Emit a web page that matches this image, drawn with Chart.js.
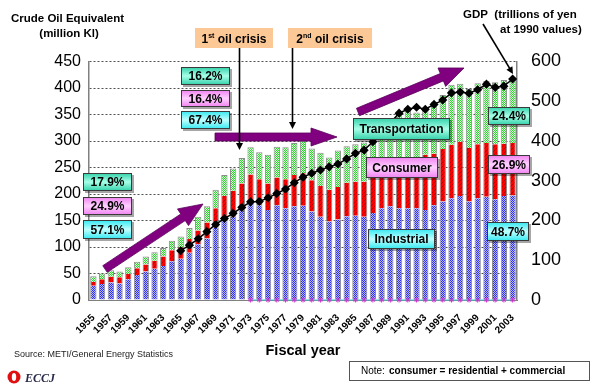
<!DOCTYPE html>
<html><head><meta charset="utf-8">
<script src="https://cdn.jsdelivr.net/npm/chart.js@4/dist/chart.umd.min.js"></script>
<style>html,body{margin:0;padding:0;background:#fff;}#wrap{width:600px;height:388px;position:relative;}</style>
</head><body><div id="wrap"><canvas id="c" width="600" height="388"></canvas></div>
<script>
// ---- data ----
const years = ['1955','1956','1957','1958','1959','1960','1961','1962','1963','1964','1965','1966','1967','1968','1969','1970','1971','1972','1973','1974','1975','1976','1977','1978','1979','1980','1981','1982','1983','1984','1985','1986','1987','1988','1989','1990','1991','1992','1993','1994','1995','1996','1997','1998','1999','2000','2001','2002','2003'];
const industrial = [27,30,33,31,39,47,54,59,64,73,78,89,105,116,137,150,157,171,181,179,170,179,173,177,178,167,157,148,152,158,159,157,164,173,177,173,173,173,170,179,186,192,196,186,192,195,190,196,197];
const consumer = [7,9,11,12,10,13,13,15,18,21,21,26,26,30,36,46,49,49,56,49,50,52,55,59,61,59,58,60,61,63,64,66,68,67,69,79,85,89,104,97,99,101,102,101,102,101,104,99,99];
const transport = [11,11,12,11,13,12,15,16,16,18,21,21,26,31,35,40,42,48,51,51,54,58,60,60,61,60,63,61,69,69,71,74,80,85,92,97,100,92,86,98,102,113,110,111,115,117,117,120,120];
const gdp = [null,null,null,null,null,null,null,null,null,null,124,138,154,172,190,205,218,233,247,248,257,268,279,295,309,319,327,335,342,355,369,377,398,422,446,470,480,485,480,492,503,521,523,520,529,543,535,538,556];
const baseMarks = [null,null,null,null,null,null,null,null,null,null,null,null,null,null,null,null,null,null,0,0,0,0,0,0,0,0,0,0,0,0,0,0,0,0,0,0,0,0,0,0,0,0,0,0,0,0,0,0,0];
const leftTicks = [0,50,100,150,200,250,300,350,400,450];
const rightTicks = [0,100,200,300,400,500,600];

const FONT = '"Liberation Sans", Arial, sans-serif';

function pattern(bg, fg, fn) {
  const c = document.createElement('canvas'); c.width = 4; c.height = 4;
  const x = c.getContext('2d');
  x.fillStyle = bg; x.fillRect(0,0,4,4);
  x.fillStyle = fg;
  for (let i=0;i<4;i++) for (let j=0;j<4;j++) if (fn(i,j)) x.fillRect(i,j,1,1);
  return x.createPattern(c,'repeat');
}
const ctx0 = document.getElementById('c').getContext('2d');
const bluePat = pattern('#B4B4FF', '#3030E8', (i,j)=>(i+j)%2===0);
const redPat = pattern('#FF0000', '#C00000', (i,j)=>(i+j)%4===0);
const greenPat = pattern('#D0FFD0', '#30D030', (i,j)=>(i+j)%2===0);

// ---- annotation helpers ----
function boxG(ctx,x,y,w,h,c1,c2,text,fs){
  ctx.save();
  ctx.fillStyle='rgba(0,0,0,0.35)'; ctx.fillRect(x+2,y+2,w,h);
  const g=ctx.createLinearGradient(x,y,x,y+h); g.addColorStop(0,c1); g.addColorStop(0.5,c2); g.addColorStop(1,c1);
  ctx.fillStyle=g; ctx.fillRect(x,y,w,h);
  ctx.strokeStyle='#3a3a3a'; ctx.lineWidth=1; ctx.strokeRect(x+0.5,y+0.5,w-1,h-1);
  if(text){ctx.fillStyle='#000'; ctx.font='bold '+fs+'px '+FONT; ctx.textAlign='center'; ctx.textBaseline='middle'; ctx.fillText(text,x+w/2,y+h/2+1);}
  ctx.restore();
}
const TEAL=['#2FD0A8','#A8FFE8'], PINK=['#F080F0','#FFD0FF'], CYAN=['#30E8F0','#C0FFFF'];
function purpleArrow(ctx,x1,y1,x2,y2,sw,hl,hw){
  const dx=x2-x1, dy=y2-y1, L=Math.hypot(dx,dy), ux=dx/L, uy=dy/L, nx=-uy, ny=ux;
  const bx=x2-ux*hl, by=y2-uy*hl;
  ctx.save(); ctx.fillStyle='#800080'; ctx.strokeStyle='#5a005a'; ctx.lineWidth=0.8;
  ctx.beginPath();
  ctx.moveTo(x1+nx*sw,y1+ny*sw); ctx.lineTo(bx+nx*sw,by+ny*sw); ctx.lineTo(bx+nx*hw,by+ny*hw);
  ctx.lineTo(x2,y2); ctx.lineTo(bx-nx*hw,by-ny*hw); ctx.lineTo(bx-nx*sw,by-ny*sw); ctx.lineTo(x1-nx*sw,y1-ny*sw);
  ctx.closePath(); ctx.fill(); ctx.stroke(); ctx.restore();
}
function blackArrow(ctx,x1,y1,x2,y2){
  const dx=x2-x1, dy=y2-y1, L=Math.hypot(dx,dy), ux=dx/L, uy=dy/L, nx=-uy, ny=ux;
  ctx.save(); ctx.strokeStyle='#000'; ctx.fillStyle='#000'; ctx.lineWidth=1.6;
  ctx.beginPath(); ctx.moveTo(x1,y1); ctx.lineTo(x2-ux*5,y2-uy*5); ctx.stroke();
  ctx.beginPath(); ctx.moveTo(x2,y2); ctx.lineTo(x2-ux*7+nx*3.5,y2-uy*7+ny*3.5); ctx.lineTo(x2-ux*7-nx*3.5,y2-uy*7-ny*3.5); ctx.closePath(); ctx.fill();
  ctx.restore();
}
function crisisBox(ctx,x,y,w,h,num,sup){
  ctx.save(); ctx.fillStyle='#FCC896'; ctx.fillRect(x,y,w,h);
  ctx.fillStyle='#000'; ctx.textBaseline='alphabetic';
  const f1='bold 12px '+FONT, f2='bold 7px '+FONT;
  ctx.font=f1; const a=ctx.measureText(num).width, c=ctx.measureText(' oil crisis').width;
  ctx.font=f2; const b=ctx.measureText(sup).width;
  let sx=x+(w-(a+b+c))/2; const by=y+h/2+4.5;
  ctx.font=f1; ctx.fillText(num,sx,by); sx+=a;
  ctx.font=f2; ctx.fillText(sup,sx,by-5); sx+=b;
  ctx.font=f1; ctx.fillText(' oil crisis',sx,by);
  ctx.restore();
}

const annot = {
  id:'annot',
  afterDraw(chart){
    const ctx=chart.ctx;
    ctx.save(); ctx.fillStyle='#000'; ctx.textBaseline='middle';
    ctx.font='bold 11.5px '+FONT; ctx.textAlign='left'; ctx.fillText('Crude Oil Equivalent',11,19);
    ctx.textAlign='center'; ctx.fillText('(million Kl)',69,34);
    ctx.textAlign='left'; ctx.fillText('GDP  (trillions of yen',463,15);
    ctx.fillText('at 1990 values)',500,30);
    ctx.font='bold 14.5px '+FONT; ctx.textAlign='center'; ctx.fillText('Fiscal year',303,351);
    ctx.font='9px '+FONT; ctx.textAlign='left'; ctx.fillStyle='#222'; ctx.fillText('Source: METI/General Energy Statistics',14,355);
    ctx.restore();
    ctx.save(); ctx.fillStyle='#fff'; ctx.fillRect(349,361,240,19);
    ctx.strokeStyle='#555'; ctx.lineWidth=1; ctx.strokeRect(349.5,361.5,240,19);
    ctx.fillStyle='#000'; ctx.textBaseline='middle'; ctx.font='10px '+FONT; ctx.textAlign='left';
    ctx.fillText('Note:',361,371.5); ctx.font='bold 10px '+FONT; ctx.fillText('consumer = residential + commercial',389,371.5);
    ctx.restore();
    ctx.save(); ctx.fillStyle='#E01010'; ctx.beginPath(); ctx.arc(14,377,6.5,0,Math.PI*2); ctx.fill();
    ctx.fillStyle='#fff'; ctx.beginPath(); ctx.ellipse(14,377,2.2,4,0,0,Math.PI*2); ctx.fill();
    ctx.fillStyle='#2a2a4a'; ctx.font='italic bold 12px "Liberation Serif", serif'; ctx.textBaseline='middle'; ctx.fillText('ECCJ',25,379);
    ctx.restore();
    purpleArrow(ctx,105,269,203,204,4,24,10);
    purpleArrow(ctx,215,137,337,137,4,26,9);
    purpleArrow(ctx,358,112,464,68,4,24,10);
    blackArrow(ctx,239.5,48,239.5,150);
    blackArrow(ctx,292.5,48,292.5,129);
    blackArrow(ctx,483,24,513,74);
    crisisBox(ctx,195,28,78,20,'1','st');
    crisisBox(ctx,288,28,84,20,'2','nd');
    boxG(ctx,181,67,49,18,TEAL[0],TEAL[1],'16.2%',12);
    boxG(ctx,181,90,49,17,PINK[0],PINK[1],'16.4%',12);
    boxG(ctx,181,111,49,18,CYAN[0],CYAN[1],'67.4%',12);
    boxG(ctx,83,173,49,18,TEAL[0],TEAL[1],'17.9%',12);
    boxG(ctx,83,197,49,18,PINK[0],PINK[1],'24.9%',12);
    boxG(ctx,83,220,49,19,CYAN[0],CYAN[1],'57.1%',12);
    boxG(ctx,488,107,42,18,TEAL[0],TEAL[1],'24.4%',12);
    boxG(ctx,488,155,42,19,PINK[0],PINK[1],'26.9%',12);
    boxG(ctx,487,222,42,19,CYAN[0],CYAN[1],'48.7%',12);
    boxG(ctx,353,118,97,22,TEAL[0],TEAL[1],'Transportation',12);
    boxG(ctx,366,157,72,21,PINK[0],PINK[1],'Consumer',12);
    boxG(ctx,368,229,67,20,CYAN[0],CYAN[1],'Industrial',12);
  }
};

const barCommon = {type:'bar', yAxisID:'y', stack:'e', barPercentage:0.72, categoryPercentage:1, borderColor:'#8c8c8c', order:2};
new Chart(ctx0, {
  data: {
    labels: years,
    datasets: [
      Object.assign({}, barCommon, {label:'Industrial', data:industrial, backgroundColor:bluePat, borderWidth:{left:1,right:1,top:0,bottom:0}}),
      Object.assign({}, barCommon, {label:'Consumer', data:consumer, backgroundColor:redPat, borderWidth:{left:1,right:1,top:0,bottom:0}}),
      Object.assign({}, barCommon, {label:'Transportation', data:transport, backgroundColor:greenPat, borderWidth:{left:1,right:1,top:1,bottom:0}, borderSkipped:'bottom'}),
      {type:'line', label:'GDP', data:gdp, yAxisID:'y2', borderColor:'#000', borderWidth:1.5, pointStyle:'rectRot', pointRadius:3.5, pointBackgroundColor:'#000', pointBorderColor:'#000', order:0, spanGaps:false, clip:false},
      {type:'line', label:'base', data:baseMarks, yAxisID:'y2', borderColor:'#33CCCC', borderWidth:1, pointStyle:'star', pointRadius:2.5, pointBorderColor:'#CC33CC', pointBorderWidth:1, order:1, clip:false}
    ]
  },
  options: {
    responsive:false, animation:false, devicePixelRatio:1,
    layout:{padding:{top:61.5,left:0,right:0,bottom:0}},
    plugins:{legend:{display:false}, tooltip:{enabled:false}},
    scales:{
      x:{stacked:true, grid:{display:false}, border:{color:'#808080',width:1},
         ticks:{autoSkip:false, maxRotation:45, minRotation:45, padding:4, color:'#000', font:{family:FONT,size:10,weight:'bold'},
                callback:(v,i)=> i%2===0 ? years[i] : ''},
         afterFit:s=>{s.height=88;}},
      y:{stacked:true, position:'left', min:0, max:450,
         afterBuildTicks:s=>{s.ticks=leftTicks.map(v=>({value:v}));},
         ticks:{padding:8, color:'#000', font:{family:FONT,size:16}},
         grid:{color:'#505050', drawTicks:false, lineWidth:1},
         border:{color:'#808080', width:1.5, dash:[2,2]},
         afterFit:s=>{s.width=89;}},
      y2:{position:'right', min:0, max:600,
         afterBuildTicks:s=>{s.ticks=rightTicks.map(v=>({value:v}));},
         ticks:{padding:14, color:'#000', font:{family:FONT,size:18}},
         grid:{drawOnChartArea:false, drawTicks:false},
         border:{color:'#808080', width:1.5},
         afterFit:s=>{s.width=83;}}
    }
  },
  plugins:[annot]
});
</script>
</body></html>
